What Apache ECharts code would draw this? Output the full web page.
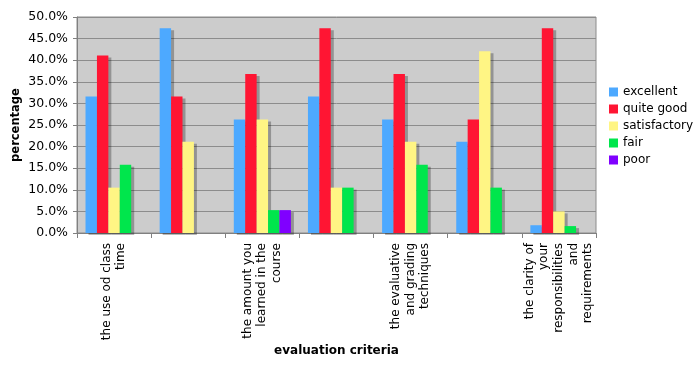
<!DOCTYPE html>
<html>
<head>
<meta charset="utf-8">
<script src="https://cdn.jsdelivr.net/npm/echarts@6/dist/echarts.min.js"></script>
<style>html,body{margin:0;padding:0;background:#fff}#c{width:694px;height:365px}</style>
</head>
<body>
<div id="c"></div>
<script>
var categories = [
  "the use od class\ntime",
  "",
  "the amount you\nlearned in the\ncourse",
  "",
  "the evaluative\nand grading\ntechniques",
  "",
  "the clarity of\nyour\nresponsibilities\nand\nrequirements"
];
var seriesNames = ["excellent", "quite good", "satisfactory", "fair", "poor"];
var excellent    = [31.6, 47.4, 26.3, 31.6, 26.3, 21.1, 1.8];
var quiteGood    = [41.1, 31.6, 36.8, 47.4, 36.8, 26.3, 47.4];
var satisfactory = [10.5, 21.1, 26.3, 10.5, 21.1, 42.1, 5.0];
var fair         = [15.8, 0, 5.3, 10.5, 15.8, 10.5, 1.6];
var poor         = [0, 0, 5.3, 0, 0, 0, 0];
var yTicks = {min: 0, max: 50, interval: 5};

var colors = ["#4da9ff", "#ff1533", "#fff584", "#00e64c", "#8000ff"];
var values = [excellent, quiteGood, satisfactory, fair, poor];
var font = "DejaVu Sans";

var chart = echarts.init(document.getElementById('c'));
chart.setOption({
  animation: false,
  textStyle: {fontFamily: font},
  grid: {left: 77, right: 98, top: 17, bottom: 132, show: true, containLabel: false, outerBoundsMode: 'none',
         backgroundColor: '#cccccc', borderColor: '#8c8c8c', borderWidth: 1},
  legend: {
    orient: 'vertical', left: 609, top: 86, padding: 0,
    itemWidth: 9, itemHeight: 9, itemGap: 5, icon: 'rect',
    textStyle: {fontSize: 12, color: '#000', fontFamily: font},
    data: seriesNames
  },
  xAxis: {
    type: 'category', data: categories,
    name: 'evaluation criteria', nameLocation: 'middle', nameGap: 112, nameMoveOverlap: false,
    nameTextStyle: {fontSize: 12, fontWeight: 'bold', color: '#000', fontFamily: font},
    axisLine: {lineStyle: {color: '#808080'}},
    axisTick: {show: true, interval: 0, length: 5, lineStyle: {color: '#808080'}},
    axisLabel: {interval: 1, rotate: 90, fontSize: 12, lineHeight: 14.6, color: '#000', margin: 10, fontFamily: font}
  },
  yAxis: {
    type: 'value', min: yTicks.min, max: yTicks.max, interval: yTicks.interval,
    name: 'percentage', nameLocation: 'middle', nameGap: 55, nameMoveOverlap: false,
    nameTextStyle: {fontSize: 11.5, fontWeight: 'bold', color: '#000', fontFamily: font},
    axisLine: {show: true, lineStyle: {color: '#808080'}},
    axisTick: {show: true, length: 4, lineStyle: {color: '#808080'}},
    splitLine: {lineStyle: {color: '#8c8c8c'}},
    axisLabel: {fontSize: 12.5, color: '#000', margin: 9, fontFamily: font,
      formatter: function (v) { return v.toFixed(1) + '%'; }}
  },
  series: seriesNames.map(function (n, i) {
    return {
      name: n, type: 'bar', data: values[i],
      barGap: '0%', barCategoryGap: '23%',
      itemStyle: {color: colors[i], shadowColor: 'rgba(0,0,0,0.28)', shadowOffsetX: 3, shadowOffsetY: 2, shadowBlur: 0}
    };
  })
});
</script>
</body>
</html>
